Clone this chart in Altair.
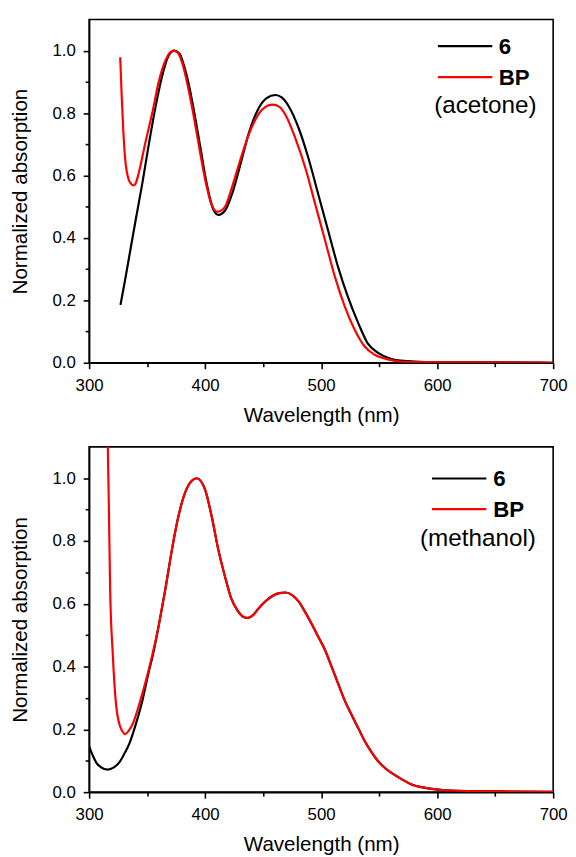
import altair as alt
import pandas as pd

FONT = "Liberation Sans, Arial, sans-serif"

# ---------------- data ----------------
# acetone, compound 6 (black)
wl_6_acetone = [327, 331, 335, 340, 346, 351, 357, 363, 368.5, 373.5, 378, 381.5, 386, 390,
                396, 401.5, 407, 411.5, 417, 424, 430, 438, 446.5, 453, 460.5, 466, 472,
                480.5, 489, 497.5, 506, 514.5, 523, 532, 540, 549, 560, 574, 590, 620, 660, 700]
abs_6_acetone = [0.185, 0.265, 0.35, 0.455, 0.578, 0.69, 0.815, 0.92, 0.984, 1.0, 0.99, 0.955, 0.89, 0.815,
                 0.688, 0.571, 0.492, 0.474, 0.487, 0.55, 0.63, 0.74, 0.818, 0.848, 0.858, 0.85, 0.822,
                 0.753, 0.656, 0.54, 0.424, 0.308, 0.212, 0.127, 0.063, 0.032, 0.013, 0.005, 0.002, 0.001, 0.001, 0.0]

# acetone, BP (red)
wl_bp_acetone = [326.8, 328, 329.5, 331, 332.5, 334, 336, 338.2, 340.5, 343, 348.7, 354.4, 360, 365.7, 369.5,
                 372.8, 376.5, 380, 388.4, 394, 399.7, 405.4, 410.5, 416.8, 422.5, 429.5, 438, 446.6, 452,
                 458, 464, 469.3, 477.8, 486.4, 494.9, 503.4, 511.9, 520.4, 528.9, 537.4, 545.9, 557.3,
                 571.4, 590, 620, 660, 700]
abs_bp_acetone = [0.979, 0.86, 0.74, 0.655, 0.612, 0.588, 0.574, 0.568, 0.578, 0.612, 0.709, 0.80, 0.90, 0.968, 0.993,
                  1.0, 0.993, 0.963, 0.825, 0.709, 0.593, 0.508, 0.484, 0.498, 0.555, 0.64, 0.735, 0.80, 0.82,
                  0.827, 0.82, 0.794, 0.719, 0.624, 0.508, 0.392, 0.275, 0.180, 0.106, 0.053, 0.026, 0.011,
                  0.003, 0.002, 0.001, 0.001, 0.0]

# methanol, compound 6 (black)
wl_6_methanol = [300, 303, 306, 310, 316, 321, 326, 330, 334.5, 340.2, 345.8, 351.5, 355, 360.1, 365.8,
                 371.5, 377.1, 382.8, 388.5, 392.7, 399.8, 405.5, 411.2, 416.8, 422.5, 428, 433, 437,
                 441, 446, 452, 458, 464, 469.3, 475, 480.7, 486, 492, 497.5, 503.4, 509, 514.7,
                 520, 526, 532, 537.4, 543, 548.8, 555, 562, 570, 577, 591, 605, 634, 670, 700]
abs_6_methanol = [0.145, 0.118, 0.095, 0.08, 0.072, 0.078, 0.095, 0.12, 0.153, 0.216, 0.29, 0.385, 0.438, 0.533, 0.649,
                  0.775, 0.881, 0.955, 0.992, 1.0, 0.965, 0.881, 0.775, 0.691, 0.617, 0.578, 0.558, 0.555,
                  0.563, 0.585, 0.608, 0.625, 0.634, 0.636, 0.628, 0.607, 0.575, 0.535, 0.495, 0.452, 0.400, 0.345,
                  0.295, 0.248, 0.204, 0.164, 0.13, 0.100, 0.077, 0.058, 0.04, 0.026, 0.013, 0.007, 0.003, 0.002, 0.001]

# methanol, BP (red)
wl_bp_methanol = [315, 316.1, 317, 318.1, 320.4, 323.2, 326.1, 328.5, 331.2, 334, 337.4, 343.1, 348.8, 354.5,
                  360.1, 365.8, 371.5, 377.1, 382.8, 388.5, 392.7, 399.8, 405.5, 411.2, 416.8, 422.5, 428, 433, 437,
                  441, 446, 452, 458, 464, 469.3, 475, 480.7, 486, 492, 497.5, 503.4, 509, 514.7,
                  520, 526, 532, 537.4, 543, 548.8, 555, 562, 570, 577, 591, 605, 634, 670, 700]
abs_bp_methanol = [1.35, 1.10, 0.912, 0.649, 0.438, 0.279, 0.216, 0.195, 0.185, 0.195, 0.216, 0.279, 0.353, 0.438,
                   0.533, 0.649, 0.775, 0.881, 0.955, 0.992, 1.0, 0.965, 0.881, 0.775, 0.691, 0.617, 0.578, 0.558, 0.555,
                   0.563, 0.585, 0.608, 0.625, 0.634, 0.636, 0.628, 0.607, 0.575, 0.535, 0.495, 0.452, 0.400, 0.345,
                   0.295, 0.248, 0.204, 0.164, 0.13, 0.100, 0.077, 0.058, 0.04, 0.026, 0.013, 0.007, 0.003, 0.002, 0.001]

SERIES = ["6", "BP"]
COLORS = ["#000000", "#ff0000"]
X_TICKS = [300, 350, 400, 450, 500, 550, 600, 650, 700]
Y_TICKS = [0.0, 0.1, 0.2, 0.3, 0.4, 0.5, 0.6, 0.7, 0.8, 0.9, 1.0]

W = 469


def panel(wl6, a6, wlbp, abp, solvent, h, leg):
    df = pd.concat([
        pd.DataFrame({"wl": wl6, "A": a6, "series": SERIES[0]}),
        pd.DataFrame({"wl": wlbp, "A": abp, "series": SERIES[1]}),
    ], ignore_index=True)

    x = alt.X("wl:Q", scale=alt.Scale(domain=[300, 700], nice=False, zero=False),
              axis=alt.Axis(values=X_TICKS, title="Wavelength (nm)",
                            labelExpr="datum.value % 100 === 0 ? format(datum.value, 'd') : ''",
                            tickSize={"condition": {"test": "datum.value % 100 === 0", "value": 6}, "value": 4},
                            labelPadding=9, titlePadding=12, labelFlush=False))
    y = alt.Y("A:Q", scale=alt.Scale(domain=[0, 1.1], nice=False),
              axis=alt.Axis(values=Y_TICKS, title="Normalized absorption",
                            labelExpr="round(datum.value * 10) % 2 === 0 ? format(datum.value, '.1f') : ''",
                            tickSize={"condition": {"test": "round(datum.value * 10) % 2 === 0", "value": 6}, "value": 4},
                            labelPadding=8, titlePadding=22, labelFlush=False))

    lines = alt.Chart(df).mark_line(clip=True, strokeWidth=2.2, interpolate="monotone").encode(
        x=x, y=y,
        color=alt.Color("series:N", scale=alt.Scale(domain=SERIES, range=COLORS), legend=None),
    )

    layers = [lines]
    (lx1, lx2, ys, tx, sx, sy) = leg
    for i, (name, col) in enumerate(zip(SERIES, COLORS)):
        d = pd.DataFrame({"label": [name]})
        layers.append(alt.Chart(d).mark_rule(strokeWidth=2.2, color=col).encode(
            x=alt.value(lx1), x2=alt.value(lx2), y=alt.value(ys[i])))
        layers.append(alt.Chart(d).mark_text(align="left", baseline="middle", font=FONT,
                                             fontSize=22.5, fontWeight="bold", color="#000000").encode(
            x=alt.value(tx), y=alt.value(ys[i] + 0.5), text="label:N"))
    d = pd.DataFrame({"label": [solvent]})
    layers.append(alt.Chart(d).mark_text(align="center", baseline="middle", font=FONT,
                                         fontSize=24.5, color="#000000").encode(
        x=alt.value(sx), y=alt.value(sy), text="label:N"))

    return alt.layer(*layers).properties(width=W, height=h)


top = panel(wl_6_acetone, abs_6_acetone, wl_bp_acetone, abs_bp_acetone, "(acetone)", 347,
            (352.5, 407.5, [27, 58.3], 414, 400.5, 88))
bottom = panel(wl_6_methanol, abs_6_methanol, wl_bp_methanol, abs_bp_methanol, "(methanol)", 349,
               (346.5, 401.5, [32, 63], 408.5, 393, 93))

chart = alt.vconcat(top, bottom, spacing=20).properties(
    padding={"left": 0, "top": 6, "right": 0, "bottom": 0}
).configure_view(
    stroke="#000000", strokeWidth=1.6
).configure_axis(
    grid=False,
    domainColor="#000000", domainWidth=1.6,
    tickColor="#000000", tickWidth=1.6,
    labelFont=FONT, labelFontSize=17, labelColor="#000000",
    titleFont=FONT, titleFontSize=20.8, titleFontWeight="normal", titleColor="#000000",
)

chart.save("out.html", embed_options={"renderer": "svg", "actions": False})
